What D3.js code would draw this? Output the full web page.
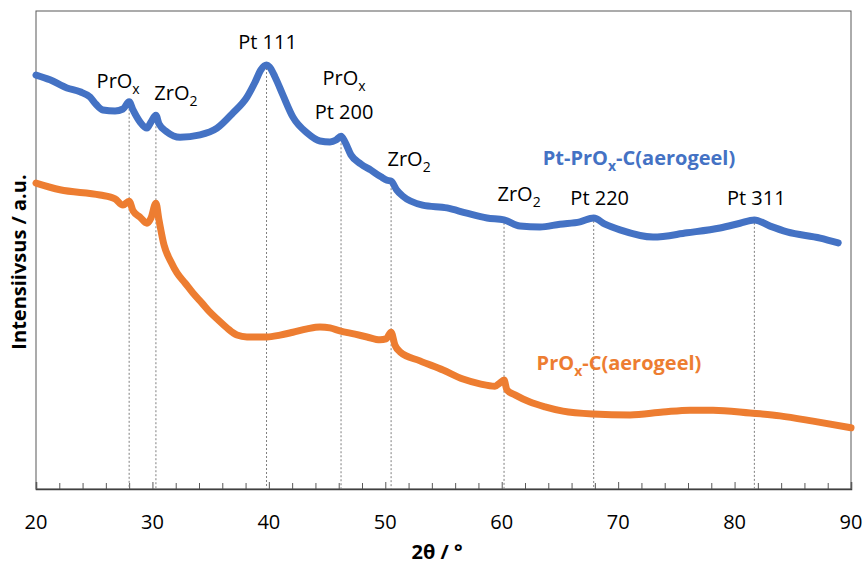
<!DOCTYPE html>
<html>
<head>
<meta charset="utf-8">
<script src="https://cdnjs.cloudflare.com/ajax/libs/d3/7.8.5/d3.min.js"></script>
<style>
  body { margin: 0; background: #fff; }
  svg text { font-family: "Open Sans", Lato, sans-serif; }
</style>
</head>
<body>
<div id="chart"></div>
<script>
// 2theta positions (deg) and intensity (a.u.)
var ptTheta = [20.0, 21.2, 22.66, 23.78, 24.64, 25.15, 25.75, 26.79, 27.47, 28.0, 28.33, 28.93,
    29.53, 29.88, 30.3, 30.56, 31.25, 32.37, 34.09, 35.55, 36.92, 38.12, 38.81, 39.32, 39.8,
    40.05, 40.53, 41.21, 42.07, 43.28, 44.39, 45.25, 45.77, 46.2, 46.54, 47.05, 47.9, 48.77,
    49.63, 50.15, 50.5, 50.97, 51.49, 53.2, 55.3, 57.0, 58.74, 60.2, 61.57, 63.29, 65.0,
    66.72, 67.9, 68.87, 70.16, 73.0, 75.92, 78.75, 80.47, 81.7, 83.05, 84.51, 87.35, 88.9];
var ptIntensity = [866, 856, 839, 831, 820, 805, 793, 791, 795, 810, 793, 768,
    755, 768, 782, 764, 747, 736, 741, 755, 787, 820, 851, 877, 887,
    883, 862, 824, 778, 745, 728, 726, 730, 738, 726, 699, 680, 667,
    653, 646, 644, 626, 613, 594, 588, 577, 567, 563, 550, 548, 554,
    559, 567, 554, 542, 527, 536, 546, 556, 563, 550, 538, 525, 515];

var proTheta = [20.0, 22.06, 25.5, 26.79, 27.47, 28.0, 28.33, 28.93, 29.53, 29.88, 30.3, 30.56,
    31.0, 31.6, 32.11, 32.8, 33.48, 34.26, 34.94, 35.63, 36.4, 37.26, 38.12, 39.84, 40.96,
    42.07, 43.28, 44.39, 45.25, 46.1, 47.4, 48.43, 49.55, 50.06, 50.5, 50.83, 51.26, 52.98,
    54.96, 56.67, 58.13, 59.42, 59.85, 60.2, 60.45, 61.14, 62.43, 63.72, 65.26, 67.84, 71.02,
    73.85, 76.17, 78.15, 81.33, 83.9, 86.74, 90.0];
var proIntensity = [640, 626, 615, 607, 594, 602, 582, 569, 556, 567, 598, 563,
    510, 475, 452, 431, 410, 389, 370, 354, 337, 322, 318, 318, 322,
    328, 335, 339, 337, 331, 324, 318, 312, 314, 328, 301, 287, 268,
    249, 230, 220, 215, 222, 228, 207, 197, 182, 172, 163, 157, 155,
    161, 165, 165, 159, 153, 142, 128];

// reflections: position and label (second item = subscript)
var peakTheta = [28.0, 30.3, 39.8, 46.2, 50.5, 60.2, 67.9, 81.7];
var peakLabels = [
    [["PrO", "x"]],
    [["ZrO", "2"]],
    [["Pt 111", ""]],
    [["PrO", "x"], ["Pt 200", ""]],
    [["ZrO", "2"]],
    [["ZrO", "2"]],
    [["Pt 220", ""]],
    [["Pt 311", ""]]
];
// label placement (px offsets from line top)
var peakLabelDx = [-11, 20, 1, 3, 18, 15, 6, 2];
var peakLabelDy = [-14, -15, -16, -51, -15, -19, -13, -15];

var xTicks = [20, 30, 40, 50, 60, 70, 80, 90];
var seriesNames = ["Pt-PrO|x|-C(aerogeel)", "PrO|x|-C(aerogeel)"];
var seriesColors = ["#4472C4", "#ED7D31"];

var svgWidth = 864, svgHeight = 566;
var margin = { top: 11, right: 13, bottom: 77, left: 36 };
var width = svgWidth - margin.left - margin.right;
var height = svgHeight - margin.top - margin.bottom;

var svg = d3.select("#chart").append("svg")
    .attr("width", svgWidth)
    .attr("height", svgHeight);

var chartGroup = svg.append("g")
    .attr("transform", `translate(${margin.left}, ${margin.top})`);

var xScale = d3.scaleLinear().domain([20, 90]).range([0, width]);
var yScale = d3.scaleLinear().domain([0, 1000]).range([height, 0]);

var ptData = ptTheta.map((t, i) => ({ t: t, v: ptIntensity[i] }));
var proData = proTheta.map((t, i) => ({ t: t, v: proIntensity[i] }));

// frame
chartGroup.append("rect")
    .attr("width", width)
    .attr("height", height)
    .attr("fill", "none")
    .attr("stroke", "#595959")
    .attr("stroke-width", 1);

// x axis, ticks inside
var minorTicks = d3.range(22, 90, 2).filter(d => d % 10 !== 0);
chartGroup.append("g")
    .attr("transform", `translate(0, ${height})`)
    .call(d3.axisTop(xScale).tickValues(minorTicks).tickSize(6).tickFormat(""))
    .call(g => g.select(".domain").remove())
    .selectAll("line").attr("stroke", "#595959");

var xAxis = chartGroup.append("g")
    .attr("transform", `translate(0, ${height})`)
    .call(d3.axisTop(xScale).tickValues(xTicks).tickSize(7).tickFormat(""));
xAxis.select(".domain").attr("stroke", "#404040").attr("stroke-width", 1.5);
xAxis.selectAll("line").attr("stroke", "#595959");

chartGroup.selectAll(".xlabel")
    .data(xTicks)
    .enter()
    .append("text")
    .attr("class", "xlabel")
    .attr("x", d => xScale(d))
    .attr("y", height + 40)
    .attr("text-anchor", "middle")
    .attr("font-size", "20px")
    .attr("fill", "#000")
    .text(d => d);

// interpolate the Pt curve at a reflection position
function ptAt(t) {
    var i = d3.bisector(d => d.t).left(ptData, t);
    if (i <= 0) return ptData[0].v;
    if (i >= ptData.length) return ptData[ptData.length - 1].v;
    var a = ptData[i - 1], b = ptData[i];
    return a.v + (b.v - a.v) * (t - a.t) / (b.t - a.t);
}

// dashed reflection lines
chartGroup.selectAll(".peakline")
    .data(peakTheta)
    .enter()
    .append("line")
    .attr("class", "peakline")
    .attr("x1", d => xScale(d))
    .attr("x2", d => xScale(d))
    .attr("y1", d => yScale(ptAt(d)) + 3)
    .attr("y2", height)
    .attr("stroke", "#7f7f7f")
    .attr("stroke-width", 1)
    .attr("stroke-dasharray", "2,2");

// curves
var line = d3.line()
    .curve(d3.curveMonotoneX)
    .x(d => xScale(d.t))
    .y(d => yScale(d.v));

[proData, ptData].forEach(function(data, i) {
    chartGroup.append("path")
        .datum(data)
        .attr("d", line)
        .attr("fill", "none")
        .attr("stroke", seriesColors[1 - i])
        .attr("stroke-width", 7)
        .attr("stroke-linejoin", "round")
        .attr("stroke-linecap", "round");
});

// peak labels
peakTheta.forEach(function(t, i) {
    var top = yScale(ptAt(t));
    var lines = peakLabels[i];
    lines.forEach(function(parts, j) {
        var txt = chartGroup.append("text")
            .attr("x", xScale(t) + peakLabelDx[i])
            .attr("y", top + peakLabelDy[i] + j * 34)
            .attr("text-anchor", "middle")
            .attr("font-size", "20px")
            .attr("fill", "#000");
        txt.append("tspan").text(parts[0]);
        if (parts[1]) {
            txt.append("tspan").attr("dy", 6).attr("font-size", "14px").text(parts[1]);
        }
    });
});

// series labels
var seriesPos = [[639, 165], [619, 370]];
seriesNames.forEach(function(name, i) {
    var parts = name.split("|");
    var txt = svg.append("text")
        .attr("x", seriesPos[i][0])
        .attr("y", seriesPos[i][1])
        .attr("text-anchor", "middle")
        .attr("font-size", "20px")
        .attr("font-weight", "bold")
        .attr("fill", seriesColors[i]);
    txt.append("tspan").text(parts[0]);
    txt.append("tspan").attr("dy", 6).attr("font-size", "14px").text(parts[1]);
    txt.append("tspan").attr("dy", -6).text(parts[2]);
});

// axis titles
svg.append("text")
    .attr("transform", "rotate(-90)")
    .attr("x", -262)
    .attr("y", 26)
    .attr("text-anchor", "middle")
    .attr("font-size", "20px")
    .attr("font-weight", "bold")
    .attr("fill", "#000")
    .text("Intensiivsus / a.u.");

svg.append("text")
    .attr("x", 437)
    .attr("y", 559)
    .attr("text-anchor", "middle")
    .attr("font-size", "20px")
    .attr("font-weight", "bold")
    .attr("fill", "#000")
    .text("2θ / °");
</script>
</body>
</html>
